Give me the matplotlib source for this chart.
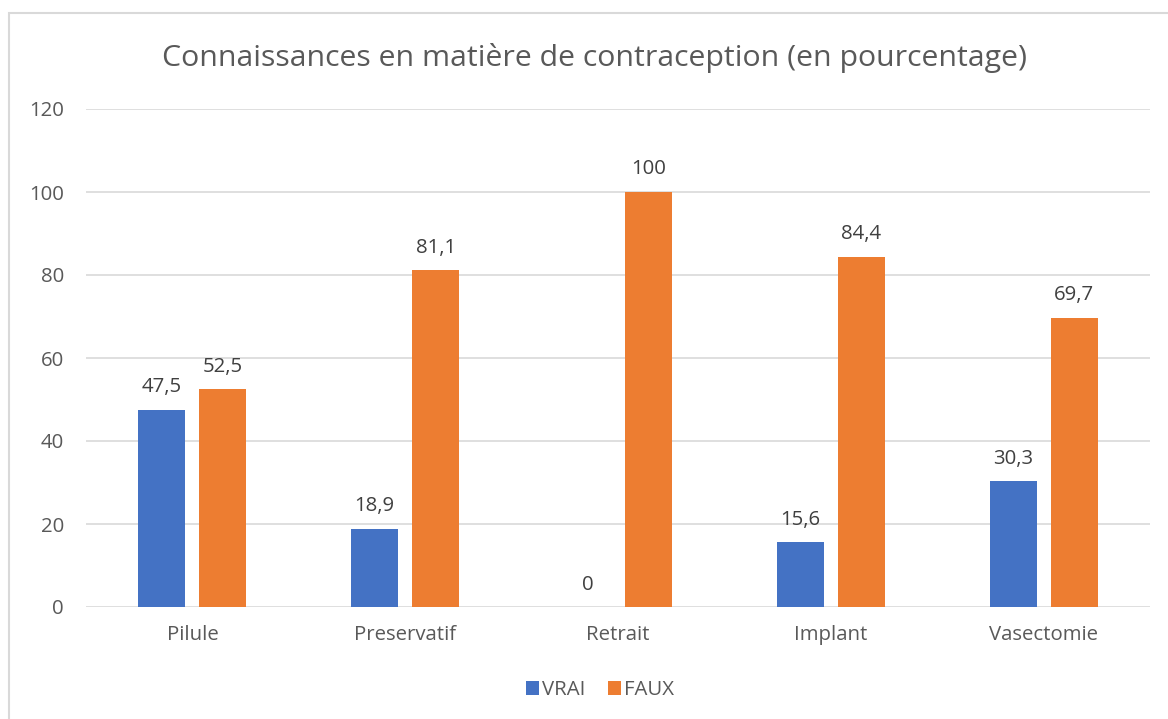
import numpy as np
import matplotlib.pyplot as plt
from matplotlib.patches import Rectangle

categories = ['Pilule', 'Preservatif', 'Retrait', 'Implant', 'Vasectomie']
vrai = [47.5, 18.9, 0, 15.6, 30.3]
faux = [52.5, 81.1, 100, 84.4, 69.7]
yticks = [0, 20, 40, 60, 80, 100, 120]

plt.rcParams['font.family'] = ['Open Sans', 'DejaVu Sans']

fig = plt.figure(figsize=(11.68, 7.19), dpi=100)
fig.patches.append(Rectangle((9/1168, -0.1), 1.2, 1 - 13/719 + 0.1, transform=fig.transFigure,
                             fill=False, edgecolor='#d9d9d9', linewidth=1.5))

ax = fig.add_axes([86/1168, 1 - 607/719, 1064/1168, 498/719])
x = np.arange(len(categories))
w = 0.221
off = 0.143
b1 = ax.bar(x - off, vrai, w, color='#4472C4', label='VRAI', zorder=3)
b2 = ax.bar(x + off, faux, w, color='#ED7D31', label='FAUX', zorder=3)

def fmt(v):
    return ('%g' % v).replace('.', ',')

for bars, vals in [(b1, vrai), (b2, faux)]:
    for rect, v in zip(bars, vals):
        ax.annotate(fmt(v), (rect.get_x() + rect.get_width()/2, v), xytext=(0, 9),
                    textcoords='offset points', ha='center', va='bottom',
                    fontsize=14.7, color='#404040')

ax.set_xlim(-0.5, len(categories) - 0.5)
ax.set_ylim(0, 120)
ax.set_yticks(yticks)
ax.set_yticklabels([str(t) for t in yticks])
ax.set_xticks(x)
ax.set_xticklabels(categories)
ax.tick_params(axis='both', length=0, labelsize=14.7, labelcolor='#595959')
ax.tick_params(axis='y', pad=16)
ax.tick_params(axis='x', pad=13)
ax.grid(axis='y', color='#d9d9d9', linewidth=1.2, zorder=0)
for s in ax.spines.values():
    s.set_visible(False)

fig.text(595/1168, 1 - 58/719, 'Connaissances en matière de contraception (en pourcentage)',
         ha='center', va='center', fontsize=21.8, color='#595959')

fig.legend(handles=[b1, b2], labels=['VRAI', 'FAUX'], loc='center',
           bbox_to_anchor=(600/1168, 1 - 690/719), ncol=2, frameon=False,
           fontsize=14.7, labelcolor='#595959', handlelength=0.65, handleheight=0.65,
           handletextpad=0.15, columnspacing=1.1)

fig.savefig('out.png', dpi=100)
